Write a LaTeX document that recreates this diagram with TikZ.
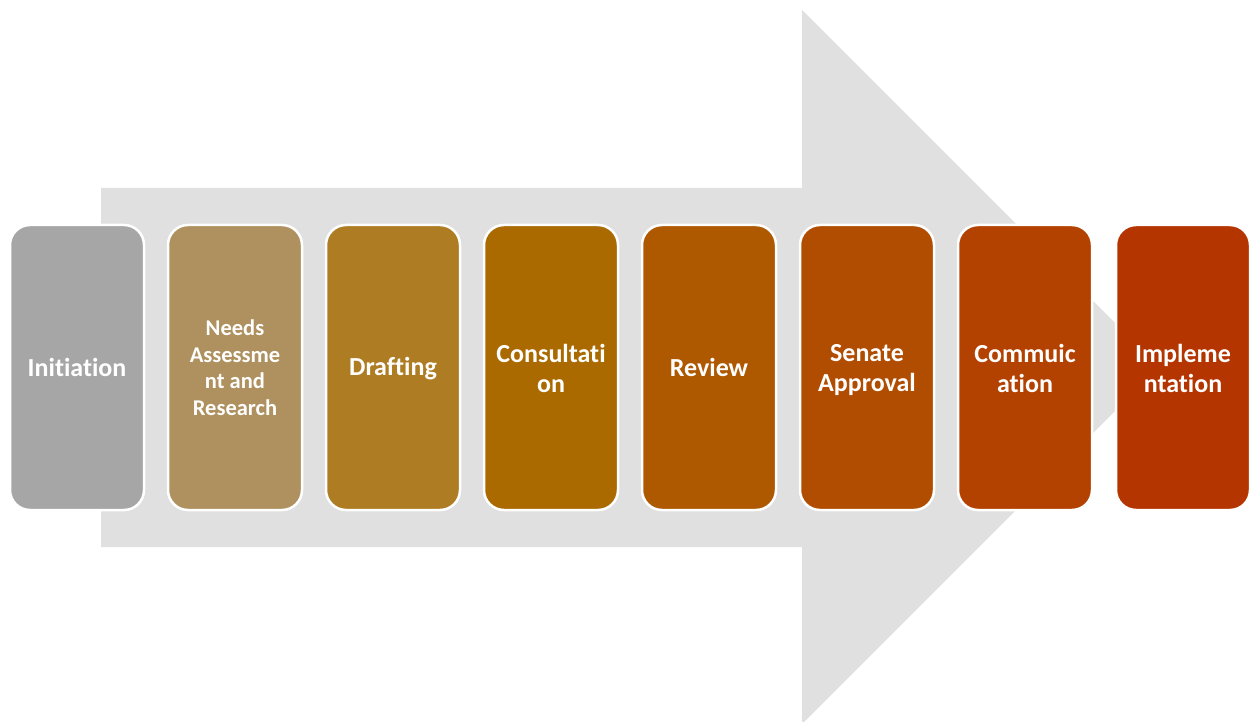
\documentclass[tikz,border=0pt]{standalone}
\usepackage{fontspec}
\setmainfont{Carlito}[Ligatures={NoCommon}]
\definecolor{arrowgray}{HTML}{E0E0E0}
\definecolor{cA}{HTML}{A6A6A6}
\definecolor{cB}{HTML}{AE915E}
\definecolor{cC}{HTML}{AE7D23}
\definecolor{cD}{HTML}{AA6A00}
\definecolor{cE}{HTML}{AE5800}
\definecolor{cF}{HTML}{B14D00}
\definecolor{cG}{HTML}{B34100}
\definecolor{cH}{HTML}{B53500}
\tikzset{
  stepbox/.style={draw=white, line width=2.5pt, rounded corners=20pt,
    minimum width=134pt, minimum height=285pt, inner sep=0pt},
  steptext/.style={text=white, align=center, inner sep=0pt,
    font=\bfseries\fontsize{26}{30}\selectfont},
  smalltext/.style={font=\bfseries\fontsize{22.5}{26.5}\selectfont}
}
\begin{document}
\begin{tikzpicture}[x=1pt,y=-1pt]
\useasboundingbox (0,0) rectangle (1254,722);
\fill[arrowgray] (101,188) -- (802,188) -- (802,10) -- (1159,367) -- (802,724) -- (802,547) -- (101,547) -- cycle;
\node[stepbox, fill=cA, label={[steptext]center:Initiation}] (s1) at (77,367.5) {};
\node[stepbox, fill=cB, label={[steptext,smalltext]center:{Needs\\Assessme\\nt and\\Research}}] (s2) at (235,367.5) {};
\node[stepbox, fill=cC, label={[steptext,yshift=-1.5pt]center:Drafting}] (s3) at (393,367.5) {};
\node[stepbox, fill=cD, label={[steptext,yshift=-1pt]center:{Consultati\\on}}] (s4) at (551,367.5) {};
\node[stepbox, fill=cE, label={[steptext]center:Review}] (s5) at (709,367.5) {};
\node[stepbox, fill=cF, label={[steptext,yshift=-2.5pt]center:{Senate\\Approval}}] (s6) at (867,367.5) {};
\node[stepbox, fill=cG, label={[steptext,yshift=-1pt]center:{Commuic\\ation}}] (s7) at (1025,367.5) {};
\node[stepbox, fill=cH, label={[steptext,yshift=-1pt]center:{Impleme\\ntation}}] (s8) at (1183,367.5) {};
\end{tikzpicture}
\end{document}
